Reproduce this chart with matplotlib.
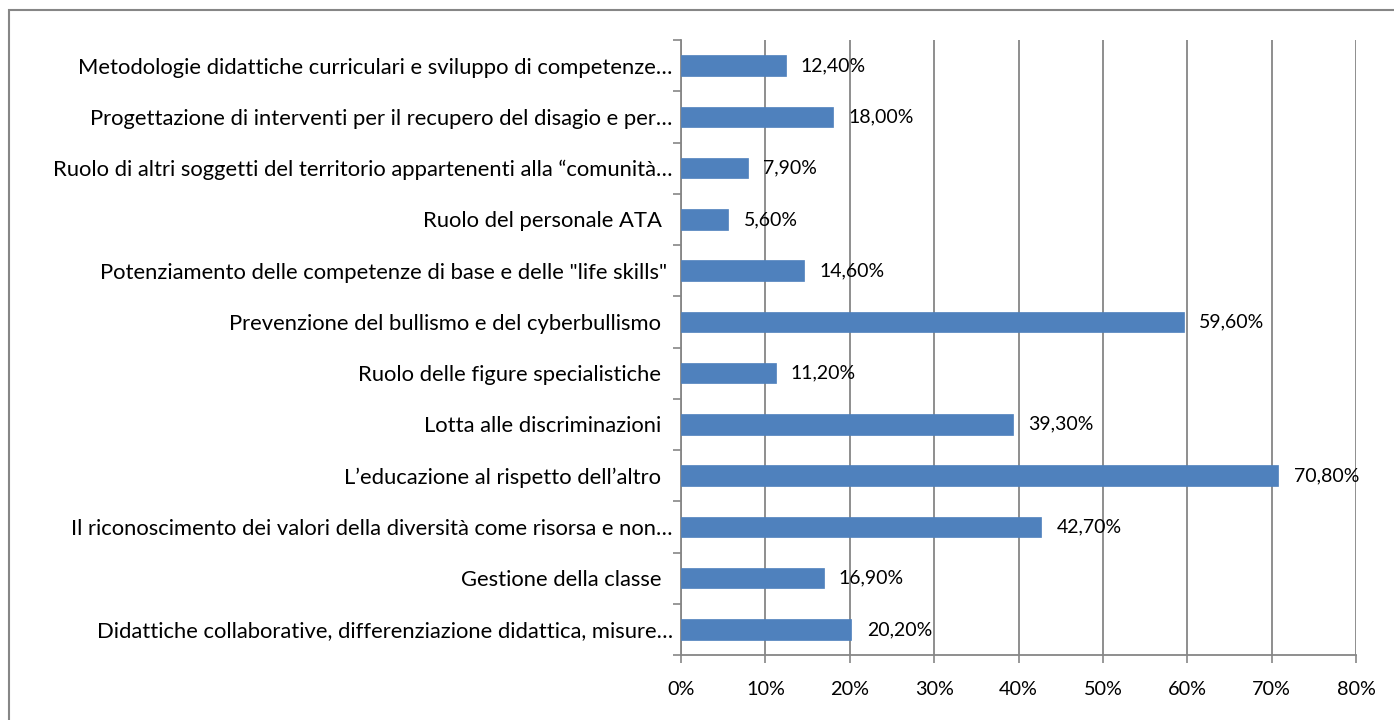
import matplotlib
matplotlib.use("Agg")
import matplotlib.pyplot as plt
from matplotlib.patches import Rectangle
import numpy as np

plt.rcParams['font.family'] = ['Lato', 'DejaVu Sans']

categories = [
    "Didattiche collaborative, differenziazione didattica, misure…",
    "Gestione della classe  ",
    "Il riconoscimento dei valori della diversità come risorsa e non…",
    "L’educazione al rispetto dell’altro  ",
    "Lotta alle discriminazioni  ",
    "Ruolo delle figure specialistiche  ",
    "Prevenzione del bullismo e del cyberbullismo  ",
    "Potenziamento delle competenze di base e delle \"life skills\" ",
    "Ruolo del personale ATA  ",
    "Ruolo di altri soggetti del territorio appartenenti alla “comunità…",
    "Progettazione di interventi per il recupero del disagio e per…",
    "Metodologie didattiche curriculari e sviluppo di competenze…",
]
values = [20.2, 16.9, 42.7, 70.8, 39.3, 11.2, 59.6, 14.6, 5.6, 7.9, 18.0, 12.4]
value_labels = ["20,20%", "16,90%", "42,70%", "70,80%", "39,30%", "11,20%",
                "59,60%", "14,60%", "5,60%", "7,90%", "18,00%", "12,40%"]
xticks = [0, 10, 20, 30, 40, 50, 60, 70, 80]
xtick_labels = ["0%", "10%", "20%", "30%", "40%", "50%", "60%", "70%", "80%"]

W, H = 1394, 720
fig = plt.figure(figsize=(W / 100, H / 100), dpi=100)
ax = fig.add_axes([681 / W, 1 - 655 / H, (1356 - 681) / W, (655 - 40) / H])

y = np.arange(len(categories))
ax.barh(y, values, height=0.4, color="#4F81BD", edgecolor="#4F81BD", linewidth=0.5, zorder=3)
for yi, v, lab in zip(y, values, value_labels):
    ax.annotate(lab, (v, yi), xytext=(11, 0), textcoords="offset points",
                va="center", ha="left", fontsize=14, color="#000000", zorder=4)

ax.set_xlim(0, 80)
ax.set_ylim(-0.5, len(categories) - 0.5)
ax.set_xticks(xticks)
ax.set_xticklabels(xtick_labels, fontsize=14.3)
ax.set_yticks(y)
ax.set_yticklabels(categories, fontsize=15.8)
ax.set_yticks(np.arange(-0.5, len(categories), 1.0), minor=True)
ax.tick_params(axis="y", which="major", length=0, pad=6)
ax.tick_params(axis="y", which="minor", length=6, color="#868686", width=1.2, direction="out")
ax.tick_params(axis="x", which="major", length=6, color="#868686", width=1.2, direction="out", pad=13)
ax.xaxis.grid(True, color="#868686", linewidth=1.3, zorder=0)
for s in ["top", "right"]:
    ax.spines[s].set_visible(False)
for s in ["left", "bottom"]:
    ax.spines[s].set_color("#868686")
    ax.spines[s].set_linewidth(1.3)

# chart border
fig.patches.append(Rectangle((9 / W, -0.1), (W + 10 - 9) / W, (1 - 10 / H) + 0.1,
                             transform=fig.transFigure, fill=False,
                             edgecolor="#868686", linewidth=1.5))

fig.savefig("out.png", dpi=100)
